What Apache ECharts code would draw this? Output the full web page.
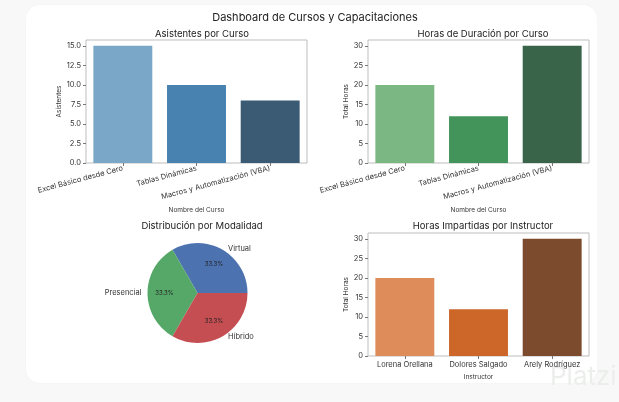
<!DOCTYPE html>
<html>
<head>
<meta charset="utf-8">
<script src="https://cdn.jsdelivr.net/npm/echarts@6/dist/echarts.min.js"></script>
<style>
	html, body { margin: 0; padding: 0; background: #f8f8f8; }
	.card { position: absolute; left: 26px; top: 5px; width: 571px; height: 378px;
		background: #fff; border-radius: 14px; box-shadow: 0 0 2px rgba(0,0,0,0.04); }
	#dashboard { position: absolute; left: 0; top: 0; width: 619px; height: 402px; }
</style>
</head>
<body>
<div class="card"></div>
<div id="dashboard"></div>
<script>
var cursos = ['Excel Básico desde Cero', 'Tablas Dinámicas', 'Macros y Automatización (VBA)'];
var asistentes = [15, 10, 8];
var horasCurso = [20, 12, 30];
var modalidades = ['Virtual', 'Presencial', 'Híbrido'];
var modalidadValores = [1, 1, 1];
var instructores = ['Lorena Orellana', 'Dolores Salgado', 'Arely Rodríguez'];
var horasInstructor = [20, 12, 30];

var coloresAzul = ['#7aa7c8', '#4782b0', '#3b5a74'];
var coloresVerde = ['#7bb783', '#42945a', '#3a6449'];
var coloresNaranja = ['#de8d5a', '#cd6629', '#7c4a2d'];
var coloresPie = ['#4c72b0', '#55a868', '#c44e52'];

var fuente = 'Inter';
var txt = '#333';

// bar data with a colour per bar
function barData(values, colors) {
	var out = [];
	for (var i = 0; i < values.length; i++) {
		out.push({ value: values[i], itemStyle: { color: colors[i] } });
	}
	return out;
}

function xAxisCfg(idx, data, name, rotate, gap) {
	return {
		type: 'category', gridIndex: idx, data: data,
		name: name, nameLocation: 'middle', nameGap: gap,
		nameTextStyle: { fontFamily: fuente, fontSize: 6.5, color: txt },
		axisLine: { show: false },
		axisTick: { show: true, alignWithLabel: true, length: 3, lineStyle: { color: '#777' } },
		axisLabel: { fontFamily: fuente, fontSize: 7.5, color: txt, rotate: rotate, margin: 5, interval: 0 }
	};
}

function yAxisCfg(idx, max, interval, name, decimals) {
	return {
		type: 'value', gridIndex: idx, min: 0, max: max, interval: interval,
		name: name, nameLocation: 'middle', nameGap: decimals ? 22 : 16,
		nameTextStyle: { fontFamily: fuente, fontSize: 6.5, color: txt },
		splitLine: { show: false },
		axisLine: { show: false },
		axisTick: { show: true, length: 3, lineStyle: { color: '#777' } },
		axisLabel: {
			fontFamily: fuente, fontSize: 7.5, color: txt, margin: 5, showMaxLabel: false,
			formatter: function(v) { return decimals ? v.toFixed(decimals) : String(v); }
		}
	};
}

function gridCfg(left, top) {
	return { left: left, top: top, width: 221, height: 123, show: true,
		borderColor: '#bdbdbd', borderWidth: 1, backgroundColor: 'transparent' };
}

function tituloCfg(text, x, y, size) {
	return { text: text, left: x, top: y, textAlign: 'center',
		textStyle: { fontFamily: fuente, fontSize: size, fontWeight: 'normal', color: '#222' } };
}

var totalModalidad = 0;
for (var i = 0; i < modalidadValores.length; i++) {
	totalModalidad += modalidadValores[i];
}
var pieData = [];
var pieLabelData = [];
for (var j = 0; j < modalidades.length; j++) {
	pieData.push({ name: modalidades[j], value: modalidadValores[j], itemStyle: { color: coloresPie[j] } });
	pieLabelData.push({ name: modalidades[j], value: modalidadValores[j] });
}

var chart = echarts.init(document.getElementById('dashboard'));
chart.setOption({
	animation: false,
	title: [
		tituloCfg('Dashboard de Cursos y Capacitaciones', 310, 7, 11),
		tituloCfg('Asistentes por Curso', 197, 24, 9.5),
		tituloCfg('Horas de Duración por Curso', 478, 24, 9.5),
		tituloCfg('Distribución por Modalidad', 197, 216, 9.5),
		tituloCfg('Horas Impartidas por Instructor', 478, 216, 9.5)
	],
	grid: [gridCfg(86, 40), gridCfg(368, 40), gridCfg(368, 233)],
	xAxis: [
		xAxisCfg(0, cursos, 'Nombre del Curso', 15, 44),
		xAxisCfg(1, cursos, 'Nombre del Curso', 15, 44),
		xAxisCfg(2, instructores, 'Instructor', 0, 18)
	],
	yAxis: [
		yAxisCfg(0, 15.75, 2.5, 'Asistentes', 1),
		yAxisCfg(1, 31.5, 5, 'Total Horas', 0),
		yAxisCfg(2, 31.5, 5, 'Total Horas', 0)
	],
	graphic: [{
		type: 'text', left: 550, top: 364, silent: true,
		style: { text: 'Platzi', fontFamily: fuente, fontSize: 26, fill: '#eceeec' }
	}],
	series: [
		{ type: 'bar', xAxisIndex: 0, yAxisIndex: 0, barWidth: '80%', data: barData(asistentes, coloresAzul) },
		{ type: 'bar', xAxisIndex: 1, yAxisIndex: 1, barWidth: '80%', data: barData(horasCurso, coloresVerde) },
		{ type: 'bar', xAxisIndex: 2, yAxisIndex: 2, barWidth: '80%', data: barData(horasInstructor, coloresNaranja) },
		{
			type: 'pie', center: [197.5, 293], radius: 50, startAngle: 0, clockwise: false,
			avoidLabelOverlap: false, silent: true, data: pieData,
			label: { position: 'outside', fontFamily: fuente, fontSize: 7.5, color: txt },
			labelLine: { show: false, length: 1, length2: 0 }
		},
		{
			// percent labels at 0.6 of the radius
			type: 'pie', center: [197.5, 293], radius: 60, startAngle: 0, clockwise: false,
			silent: true, data: pieLabelData,
			itemStyle: { color: 'rgba(0,0,0,0)' },
			label: {
				position: 'inside', fontFamily: fuente, fontSize: 6, color: '#222',
				formatter: function(p) { return (p.value / totalModalidad * 100).toFixed(1) + '%'; }
			}
		}
	]
});

window.addEventListener('resize', function() { chart.resize(); });
</script>
</body>
</html>
